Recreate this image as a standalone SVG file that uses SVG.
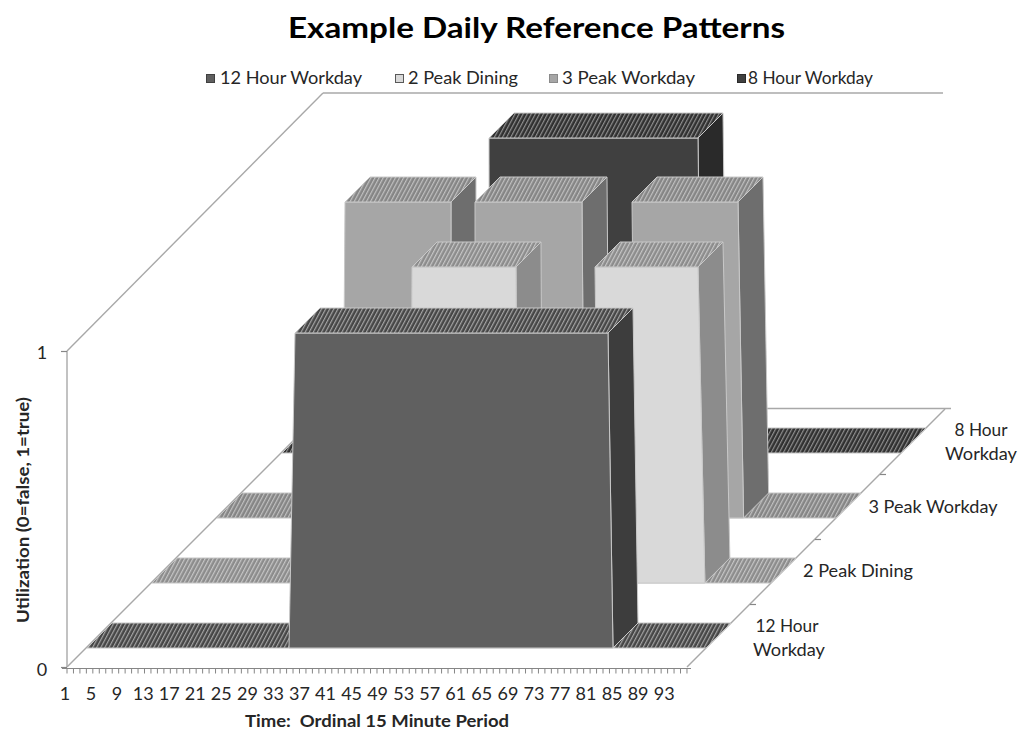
<svg xmlns="http://www.w3.org/2000/svg" width="1021" height="734" viewBox="0 0 1021 734">
<style>
  text{font-family:Lato,"Liberation Sans",sans-serif;fill:#262626}
  .t{font-size:18px}
  .b{font-weight:bold}
  .wall{stroke:#a8a8a8;stroke-width:1.4;fill:none}
  .ax{stroke:#868686;stroke-width:1.2;fill:none}
  .bx{stroke:#c8c8c8;stroke-width:1;stroke-linejoin:round}
  .fl{stroke:#c4c4c4;stroke-width:1}
</style>
<defs>
  <pattern id="hA" width="3.6" height="4" patternUnits="userSpaceOnUse" patternTransform="rotate(28)">
    <rect width="3.6" height="4" fill="#464646"/><rect width="1.2" height="4" fill="#a4a4a4"/>
  </pattern>
  <pattern id="hB" width="3.6" height="4" patternUnits="userSpaceOnUse" patternTransform="rotate(28)">
    <rect width="3.6" height="4" fill="#8c8c8c"/><rect width="1.2" height="4" fill="#c6c6c6"/>
  </pattern>
  <pattern id="hC" width="3.6" height="4" patternUnits="userSpaceOnUse" patternTransform="rotate(28)">
    <rect width="3.6" height="4" fill="#858585"/><rect width="1.2" height="4" fill="#c0c0c0"/>
  </pattern>
  <pattern id="hD" width="3.6" height="4" patternUnits="userSpaceOnUse" patternTransform="rotate(28)">
    <rect width="3.6" height="4" fill="#303030"/><rect width="1.2" height="4" fill="#8e8e8e"/>
  </pattern>
</defs>
<rect width="1021" height="734" fill="#ffffff"/>

<g id="title">
  <text x="536.5" y="38" text-anchor="middle" class="b" font-size="29" textLength="497" lengthAdjust="spacingAndGlyphs" style="fill:#000">Example Daily Reference Patterns</text>
</g>

<g id="legend">
  <rect x="206.5" y="74.5" width="8" height="8" fill="#5f5f5f" stroke="#404040"/>
  <text class="t" x="220" y="84" textLength="142" lengthAdjust="spacingAndGlyphs">12 Hour Workday</text>
  <rect x="395.5" y="74.5" width="8" height="8" fill="#d9d9d9" stroke="#595959"/>
  <text class="t" x="408" y="84" textLength="110" lengthAdjust="spacingAndGlyphs">2 Peak Dining</text>
  <rect x="549.5" y="74.5" width="8" height="8" fill="#a6a6a6" stroke="#8a8a8a"/>
  <text class="t" x="562" y="84" textLength="133" lengthAdjust="spacingAndGlyphs">3 Peak Workday</text>
  <rect x="737.5" y="74.5" width="8" height="8" fill="#404040" stroke="#2a2a2a"/>
  <text class="t" x="748" y="84" textLength="125" lengthAdjust="spacingAndGlyphs">8 Hour Workday</text>
</g>

<g id="walls">
  <polygon points="67,667 687,667 946,408 323,408" fill="#ffffff"/>
  <line class="wall" x1="67" y1="351" x2="67" y2="667"/>
  <line class="wall" x1="67" y1="351" x2="323" y2="93"/>
  <line class="wall" x1="323" y1="93" x2="943" y2="93"/>
  <line class="wall" x1="67" y1="667" x2="323" y2="411"/>
  <line class="wall" x1="323" y1="408.5" x2="951" y2="408.5"/>
  <line class="wall" x1="687" y1="667" x2="945" y2="409"/>
  <line class="ax" x1="880" y1="474.5" x2="886" y2="474.5"/>
  <line class="ax" x1="815" y1="539.5" x2="821" y2="539.5"/>
  <line class="ax" x1="750" y1="604.5" x2="756" y2="604.5"/>
</g>

<g id="series-8-hour-workday">
  <polygon class="fl" points="282,453 901,453 926,428 307,428" fill="url(#hD)"/>
  <polygon class="bx" points="698,138 723,113 726.6,428 701.6,453" fill="#2a2a2a"/>
  <polygon class="bx" points="489,138 698,138 701.6,453 489.4,453" fill="#404040"/>
  <polygon class="bx" points="489,138 698,138 723,113 514,113" fill="url(#hD)"/>
</g>

<g id="series-3-peak-workday">
  <polygon class="fl" points="217,518 836,518 861,493 242,493" fill="url(#hC)"/>
  <polygon class="bx" points="451,202 476,177 475.8,493 450.8,518" fill="#6e6e6e"/>
  <polygon class="bx" points="345,202 451,202 450.8,518 342.7,518" fill="#a6a6a6"/>
  <polygon class="bx" points="345,202 451,202 476,177 370,177" fill="url(#hC)"/>
  <polygon class="bx" points="582,202 607,177 609.4,493 584.4,518" fill="#6e6e6e"/>
  <polygon class="bx" points="475,202 582,202 584.4,518 475.3,518" fill="#a6a6a6"/>
  <polygon class="bx" points="475,202 582,202 607,177 500,177" fill="url(#hC)"/>
  <polygon class="bx" points="738,202 763,177 768.6,493 743.6,518" fill="#6e6e6e"/>
  <polygon class="bx" points="632,202 738,202 743.6,518 635.4,518" fill="#a6a6a6"/>
  <polygon class="bx" points="632,202 738,202 763,177 657,177" fill="url(#hC)"/>
</g>

<g id="series-2-peak-dining">
  <polygon class="fl" points="152,583 771,583 796,558 177,558" fill="url(#hB)"/>
  <polygon class="bx" points="516,267 541,242 542.6,558 517.6,583" fill="#8c8c8c"/>
  <polygon class="bx" points="412,267 516,267 517.6,583 410.6,583" fill="#d9d9d9"/>
  <polygon class="bx" points="412,267 516,267 541,242 437,242" fill="url(#hB)"/>
  <polygon class="bx" points="698,267 723,242 729.9,558 704.9,583" fill="#8c8c8c"/>
  <polygon class="bx" points="595,267 698,267 704.9,583 598.9,583" fill="#d9d9d9"/>
  <polygon class="bx" points="595,267 698,267 723,242 620,242" fill="url(#hB)"/>
</g>

<g id="series-12-hour-workday">
  <polygon class="fl" points="87,648 706,648 731,623 112,623" fill="url(#hA)"/>
  <polygon class="bx" points="608,333 633,308 638,623 613,648" fill="#3d3d3d"/>
  <polygon class="bx" points="295,333 608,333 613,648 289,648" fill="#606060"/>
  <polygon class="bx" points="295,333 608,333 633,308 320,308" fill="url(#hA)"/>
</g>

<g id="axes">
  <line class="ax" x1="61" y1="351.5" x2="67" y2="351.5"/>
  <line class="ax" x1="61" y1="667.5" x2="67" y2="667.5"/>
  <line class="ax" x1="62" y1="668.5" x2="691" y2="668.5"/>
  <line x1="66.5" y1="671" x2="690" y2="671" stroke="#868686" stroke-width="5" stroke-dasharray="1 5.458"/>
  <text class="t" x="42" y="359" text-anchor="middle">1</text>
  <text class="t" x="42" y="676" text-anchor="middle">0</text>
  <g class="t" text-anchor="middle">
    <text x="65" y="700">1</text>
    <text x="91" y="700">5</text>
    <text x="117.1" y="700">9</text>
    <text x="143.2" y="700">13</text>
    <text x="169.2" y="700">17</text>
    <text x="195.3" y="700">21</text>
    <text x="221.3" y="700">25</text>
    <text x="247.4" y="700">29</text>
    <text x="273.4" y="700">33</text>
    <text x="299.5" y="700">37</text>
    <text x="325.5" y="700">41</text>
    <text x="351.6" y="700">45</text>
    <text x="377.6" y="700">49</text>
    <text x="403.7" y="700">53</text>
    <text x="429.7" y="700">57</text>
    <text x="455.8" y="700">61</text>
    <text x="481.8" y="700">65</text>
    <text x="507.9" y="700">69</text>
    <text x="533.9" y="700">73</text>
    <text x="560" y="700">77</text>
    <text x="586" y="700">81</text>
    <text x="612.1" y="700">85</text>
    <text x="638.1" y="700">89</text>
    <text x="664.2" y="700">93</text>
  </g>
  <text class="b" font-size="17" x="377" y="727" text-anchor="middle" textLength="264" lengthAdjust="spacingAndGlyphs">Time:&#160; Ordinal 15 Minute Period</text>
  <text class="b" font-size="17" transform="translate(29,510) rotate(-90)" text-anchor="middle" textLength="226" lengthAdjust="spacingAndGlyphs">Utilization (0=false, 1=true)</text>
</g>

<g id="series-labels" class="t" text-anchor="middle">
  <text x="981" y="436" textLength="53" lengthAdjust="spacingAndGlyphs">8 Hour</text>
  <text x="981" y="460" textLength="72" lengthAdjust="spacingAndGlyphs">Workday</text>
  <text x="933" y="513" textLength="129" lengthAdjust="spacingAndGlyphs">3 Peak Workday</text>
  <text x="858" y="577" textLength="110" lengthAdjust="spacingAndGlyphs">2 Peak Dining</text>
  <text x="787" y="632" textLength="63" lengthAdjust="spacingAndGlyphs">12 Hour</text>
  <text x="789" y="656" textLength="72" lengthAdjust="spacingAndGlyphs">Workday</text>
</g>
</svg>
